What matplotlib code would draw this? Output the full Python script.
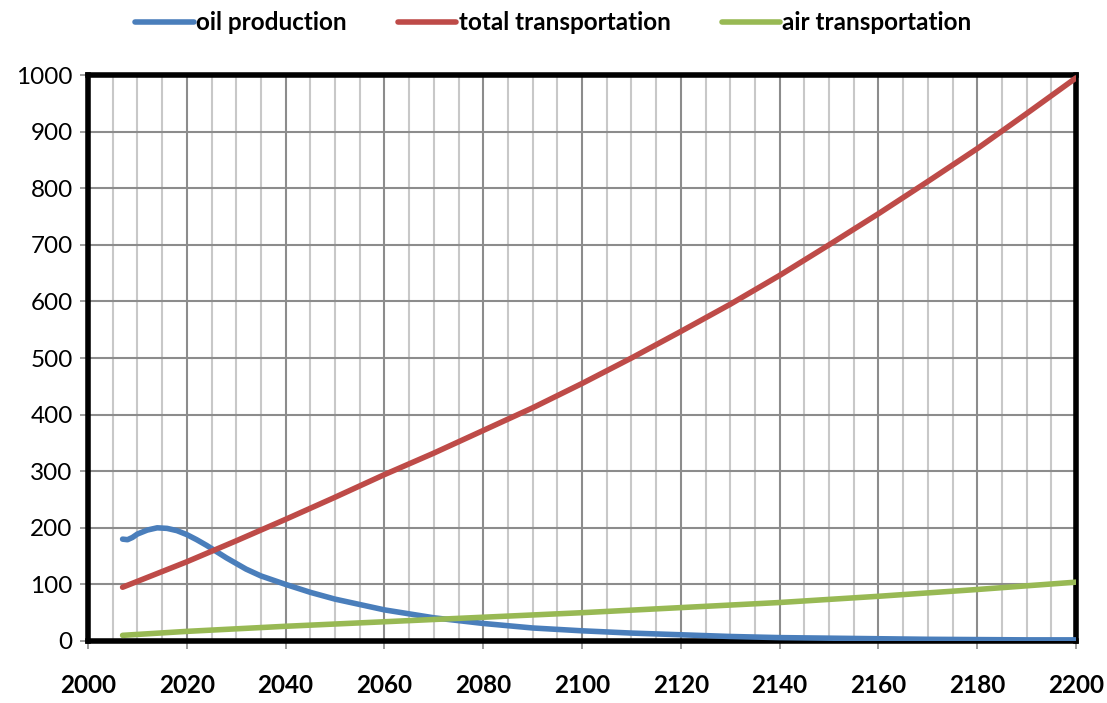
import matplotlib
matplotlib.use("Agg")
import matplotlib.pyplot as plt
from matplotlib.ticker import MultipleLocator

# ---- data ----
oil_years = [2007, 2008, 2009, 2010, 2012, 2014, 2016, 2018, 2020, 2022, 2024, 2026, 2028,
             2030, 2032, 2035, 2040, 2045, 2050, 2060, 2070, 2080, 2090, 2100, 2110,
             2120, 2130, 2140, 2150, 2160, 2170, 2180, 2190, 2200]
oil_values = [180, 179, 183, 189, 196, 200, 199, 195, 188, 179, 169, 158, 147,
              137, 127, 115, 100, 86, 74, 55, 41, 31, 23, 18, 14,
              11, 8, 6, 5, 4, 3, 2.5, 2, 2]

trans_years = [2007, 2020, 2030, 2040, 2050, 2060, 2070, 2080, 2090, 2100, 2110,
               2120, 2130, 2140, 2150, 2160, 2170, 2180, 2190, 2200]
trans_values = [95, 140, 177, 215, 254, 294, 332, 372, 412, 455, 500,
                547, 595, 646, 700, 755, 812, 870, 932, 995]

air_years = [2007, 2020, 2040, 2060, 2080, 2100, 2120, 2140, 2160, 2180, 2200]
air_values = [10, 17, 26, 34, 42, 50, 59, 68, 79, 91, 104]

series_labels = ["oil production", "total transportation", "air transportation"]
x_ticks = list(range(2000, 2201, 20))
y_ticks = list(range(0, 1001, 100))

# ---- figure ----
plt.rcParams['font.family'] = ['Lato', 'DejaVu Sans']
fig = plt.figure(figsize=(11.07, 7.03), dpi=100)
ax = fig.add_axes([0.0795, 0.0882, 0.8925, 0.805])

blue, red, green = "#4A7EBB", "#BE4B48", "#98B954"
lw = 4.0
ax.plot(oil_years, oil_values, color=blue, lw=lw, label=series_labels[0],
        solid_capstyle="round", zorder=3)
ax.plot(trans_years, trans_values, color=red, lw=lw, label=series_labels[1],
        solid_capstyle="round", zorder=3)
ax.plot(air_years, air_values, color=green, lw=lw, label=series_labels[2],
        solid_capstyle="round", zorder=3)

ax.set_xlim(2000, 2200)
ax.set_ylim(0, 1000)
ax.set_xticks(x_ticks)
ax.set_yticks(y_ticks)
ax.xaxis.set_minor_locator(MultipleLocator(5))

ax.grid(which="minor", axis="x", color="#c8c8c8", lw=1.5, zorder=0)
ax.grid(which="major", axis="x", color="#8c8c8c", lw=1.5, zorder=0)
ax.grid(which="major", axis="y", color="#8c8c8c", lw=1.5, zorder=0)
ax.set_axisbelow(True)

for s in ax.spines.values():
    s.set_linewidth(4)
    s.set_color("black")

ax.tick_params(axis="both", which="major", length=6, width=1.2, color="#8c8c8c",
               labelsize=17.5)
ax.tick_params(axis="x", which="minor", length=0)
ax.tick_params(axis="x", pad=18)
ax.tick_params(axis="y", pad=5)
for lab in ax.get_xticklabels():
    lab.set_fontweight("bold")

leg = fig.legend(loc="upper center", bbox_to_anchor=(0.5, 1.015), ncol=3, frameon=False,
                 prop={"weight": "bold", "size": 17.5}, handlelength=2.4,
                 handletextpad=0.1, columnspacing=2.1)

fig.savefig("out.png", dpi=100)
